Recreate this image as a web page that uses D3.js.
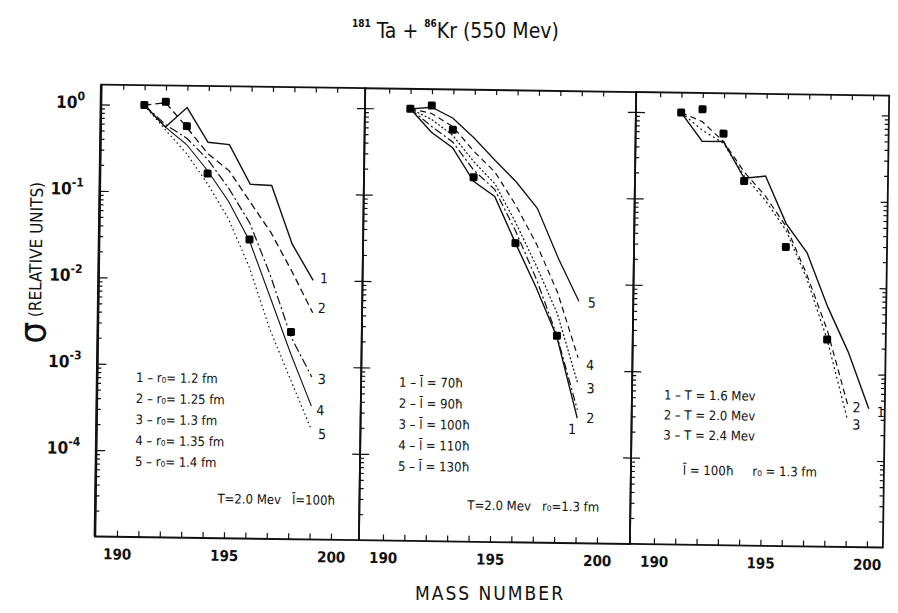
<!DOCTYPE html>
<html>
<head>
<meta charset="utf-8">
<script src="https://cdn.jsdelivr.net/npm/d3@7"></script>
<style>
body { margin: 0; background: #fff; }
svg text { font-family: "DejaVu Sans Condensed", "Liberation Sans Narrow", "Liberation Sans", sans-serif; fill: #111; }
</style>
</head>
<body>
<div id="chart"></div>
<script>
// mass numbers of the calculated points
var massCalc = [191, 192, 193, 194, 195, 196, 197, 198, 199];
var massCalcLong = [191, 192, 193, 194, 195, 196, 197, 198, 199, 200];

// experimental points (same in every panel)
var massExp = [191, 192, 193, 194, 196, 198];
var sigmaExp = [1.0, 1.1, 0.58, 0.165, 0.029, 0.0025];

// left panel : r0 varied
var leftC1 = [1.0, 0.56, 0.95, 0.38, 0.36, 0.126, 0.123, 0.026, 0.010];
var leftC2 = [1.0, 1.07, 0.56, 0.28, 0.18, 0.079, 0.035, 0.0126, 0.0042];
var leftC3 = [1.0, 0.60, 0.42, 0.24, 0.112, 0.045, 0.0112, 0.0022, 0.00076];
var leftC4 = [1.0, 0.56, 0.355, 0.178, 0.079, 0.028, 0.0063, 0.0014, 0.00035];
var leftC5 = [1.0, 0.52, 0.28, 0.126, 0.05, 0.014, 0.0027, 0.00071, 0.00019];
var leftLegend = ["1 – r\u2080= 1.2 fm", "2 – r\u2080= 1.25 fm", "3 – r\u2080= 1.3 fm", "4 – r\u2080= 1.35 fm", "5 – r\u2080= 1.4 fm"];
var leftNote = "T=2.0 Mev   l\u0304=100\u0127";

// middle panel : l varied
var midC1 = [1.0, 0.54, 0.36, 0.148, 0.10, 0.029, 0.0089, 0.0024, 0.00028];
var midC2 = [1.0, 0.63, 0.42, 0.20, 0.12, 0.040, 0.0112, 0.0025, 0.00035];
var midC3 = [1.0, 0.76, 0.50, 0.25, 0.14, 0.050, 0.0158, 0.0045, 0.00071];
var midC4 = [1.0, 0.89, 0.63, 0.33, 0.19, 0.079, 0.028, 0.0079, 0.0014];
var midC5 = [1.0, 1.05, 0.79, 0.47, 0.26, 0.148, 0.074, 0.020, 0.0063];
var midLegend = ["1 – l\u0304 = 70\u0127", "2 – l\u0304 = 90\u0127", "3 – l\u0304 = 100\u0127", "4 – l\u0304 = 110\u0127", "5 – l\u0304 = 130\u0127"];
var midNote = "T=2.0 Mev   r\u2080=1.3 fm";

// right panel : T varied
var rightC1 = [1.0, 0.47, 0.47, 0.178, 0.19, 0.054, 0.025, 0.006, 0.0018, 0.0004];
var rightC2 = [1.0, 0.79, 0.47, 0.21, 0.112, 0.05, 0.014, 0.0032, 0.00045];
var rightC3 = [1.0, 0.63, 0.45, 0.19, 0.10, 0.045, 0.0126, 0.0025, 0.0003];
var rightLegend = ["1 – T = 1.6 Mev", "2 – T = 2.0 Mev", "3 – T = 2.4 Mev"];
var rightNote = "l\u0304 = 100\u0127     r\u2080 = 1.3 fm";

var curveNames = ["1", "2", "3", "4", "5"];

// axis ticks
var xTicks = [190, 191, 192, 193, 194, 195, 196, 197, 198, 199, 200];
var xTickLabels = [190, 195, 200];
var yMajor = [1, 1e-1, 1e-2, 1e-3, 1e-4];
var yMajorExp = ["0", "-1", "-2", "-3", "-4"];

var W = 898, H = 613;
var svg = d3.select("#chart").append("svg").attr("width", W).attr("height", H);

// title
var title = svg.append("text").attr("x", 352).attr("y", 38).style("font-size", "21px");
title.append("tspan").text("181").style("font-size", "10px").style("font-weight", "bold").attr("dy", -11);
title.append("tspan").text(" Ta + ").attr("dy", 11);
title.append("tspan").text("86").style("font-size", "10px").style("font-weight", "bold").attr("dy", -11);
title.append("tspan").text("Kr (550 Mev)").attr("dy", 11);

// the scanned plate is a little tilted
var g = svg.append("g").attr("transform", "rotate(0.8,490,320)");

var yTop = 90, yBot = 542;
var y = d3.scaleLog().domain([1e-5, 1.7]).range([yBot, yTop]);
var yMinor = y.ticks().filter(function(d) { return yMajor.indexOf(d) < 0 && d > 1e-5; });

var panels = [
  { x0: 98, x1: 362, r0: 120, r1: 334, mass: [massCalc, massCalc, massCalc, massCalc, massCalc],
    curves: [leftC1, leftC2, leftC3, leftC4, leftC5],
    dash: [null, "7,4", "9,3,2,3", null, "1.5,3"], width: [1.4, 1.3, 1.2, 1.1, 1.2],
    lab: [[7, 3], [5, 0], [6, 7], [5, 9], [7, 10]],
    legend: leftLegend, lx: 137, ly: 387, lstep: 21, note: leftNote, nx: 220, ny: 507, cross: false },
  { x0: 362, x1: 633, r0: 386, r1: 600, mass: [massCalc, massCalc, massCalc, massCalc, massCalc],
    curves: [midC1, midC2, midC3, midC4, midC5],
    dash: [null, "8,3,2,3", "2,2", "6,4", null], width: [1.4, 1.2, 1.2, 1.2, 1.3],
    lab: [[-9, 16], [9, 13], [9, 10], [8, 12], [9, 6]],
    legend: midLegend, lx: 400, ly: 388, lstep: 21, note: midNote, nx: 470, ny: 510, cross: true },
  { x0: 633, x1: 886, r0: 657, r1: 870, mass: [massCalcLong, massCalc, massCalc],
    curves: [rightC1, rightC2, rightC3],
    dash: [null, "6,4", "2,3"], width: [1.4, 1.2, 1.2],
    lab: [[8, 8], [5, 8], [5, 10]],
    legend: rightLegend, lx: 665, ly: 397, lstep: 20, note: rightNote, nx: 685, ny: 472, cross: true }
];

panels.forEach(function(p, pi) {
  var x = d3.scaleLinear().domain([190, 200]).range([p.r0, p.r1]);
  var pg = g.append("g");

  // frame
  pg.append("rect")
    .attr("x", p.x0).attr("y", yTop)
    .attr("width", p.x1 - p.x0).attr("height", yBot - yTop)
    .attr("fill", "none").attr("stroke", "#111").attr("stroke-width", 1.8);
  if (pi === 0) {
    pg.append("line").attr("x1", p.x0).attr("x2", p.x0).attr("y1", yTop).attr("y2", yBot)
      .attr("stroke", "#111").attr("stroke-width", 2.6);
  }

  // bottom axis
  var xb = pg.append("g").attr("transform", "translate(0," + yBot + ")")
    .call(d3.axisBottom(x).tickValues(xTicks).tickSize(-6).tickPadding(12)
      .tickFormat(function(d) { return xTickLabels.indexOf(d) >= 0 ? d : ""; }));
  xb.select(".domain").remove();
  xb.selectAll("text").style("font-size", "15px").style("font-weight", "bold")
    .style("font-family", "'DejaVu Sans Condensed','Liberation Sans Narrow',sans-serif").attr("fill", "#111");
  xb.selectAll("line").attr("stroke", "#111").attr("stroke-width", 1.2);

  // top axis
  var xt = pg.append("g").attr("transform", "translate(0," + yTop + ")")
    .call(d3.axisTop(x).tickValues(xTicks).tickSize(-5).tickFormat(""));
  xt.select(".domain").remove();
  xt.selectAll("line").attr("stroke", "#111").attr("stroke-width", 1.2);

  // left axis ticks
  var ya = pg.append("g").attr("transform", "translate(" + p.x0 + ",0)")
    .call(d3.axisLeft(y).tickValues(yMajor).tickSize(p.cross ? 8 : 0).tickFormat(""));
  ya.select(".domain").remove();
  var yaIn = pg.append("g").attr("transform", "translate(" + p.x0 + ",0)")
    .call(d3.axisLeft(y).tickValues(yMajor).tickSize(-9).tickFormat(""));
  yaIn.select(".domain").remove();
  var ym = pg.append("g").attr("transform", "translate(" + p.x0 + ",0)")
    .call(d3.axisLeft(y).tickValues(yMinor).tickSize(-4).tickFormat(""));
  ym.select(".domain").remove();
  pg.selectAll(".tick line").attr("stroke", "#111").attr("stroke-width", 1.2);

  if (pi === 2) {
    var yr = pg.append("g").attr("transform", "translate(" + p.x1 + ",0)")
      .call(d3.axisRight(y).tickValues(yMinor).tickSize(-4).tickFormat(""));
    yr.select(".domain").remove();
    var yr2 = pg.append("g").attr("transform", "translate(" + p.x1 + ",0)")
      .call(d3.axisRight(y).tickValues(yMajor).tickSize(-7).tickFormat(""));
    yr2.select(".domain").remove();
    pg.selectAll(".tick line").attr("stroke", "#111").attr("stroke-width", 1.2);
  }

  if (pi === 0) {
    // decade labels, 10 with a raised exponent
    var yl = pg.selectAll(".ylab").data(yMajor).enter().append("text")
      .attr("class", "ylab")
      .attr("x", p.x0 - 16).attr("y", function(d) { return y(d) + 4; })
      .attr("text-anchor", "end")
      .style("font-size", "17px").style("font-weight", "bold");
    yl.append("tspan").text("10");
    yl.append("tspan").attr("dy", -8).style("font-size", "12px")
      .text(function(d, i) { return yMajorExp[i]; });
  }

  // calculated curves
  var line = d3.line().x(function(d) { return x(d[0]); }).y(function(d) { return y(d[1]); });
  p.curves.forEach(function(c, ci) {
    var pts = d3.zip(p.mass[ci], c);
    pg.append("path").datum(pts)
      .attr("d", line)
      .attr("fill", "none").attr("stroke", "#111")
      .attr("stroke-width", p.width[ci])
      .attr("stroke-dasharray", p.dash[ci]);
    var last = pts[pts.length - 1];
    pg.append("text")
      .attr("x", x(last[0]) + p.lab[ci][0]).attr("y", y(last[1]) + p.lab[ci][1])
      .style("font-size", "14px")
      .text(curveNames[ci]);
  });

  // experimental points
  pg.selectAll(".exp").data(d3.zip(massExp, sigmaExp)).enter().append("rect")
    .attr("class", "exp")
    .attr("x", function(d) { return x(d[0]) - 4; })
    .attr("y", function(d) { return y(d[1]) - 4; })
    .attr("width", 8).attr("height", 8).attr("rx", 1.5)
    .attr("fill", "#000");

  // legend
  pg.selectAll(".leg").data(p.legend).enter().append("text")
    .attr("class", "leg")
    .attr("x", p.lx).attr("y", function(d, i) { return p.ly + i * p.lstep; })
    .style("font-size", "13px")
    .text(function(d) { return d; });
  pg.append("text").attr("x", p.nx).attr("y", p.ny)
    .style("font-size", "13px").style("white-space", "pre")
    .text(p.note);
});

// axis titles
var yt = g.append("text")
  .attr("transform", "translate(46,350) rotate(-90)")
  .attr("text-anchor", "start");
yt.append("tspan").text("\u03C3").style("font-size", "38px");
yt.append("tspan").text(" (RELATIVE UNITS)").style("font-size", "17px").attr("dy", -5);

svg.append("text").attr("x", 490).attr("y", 600).attr("text-anchor", "middle")
  .style("font-size", "19px").style("letter-spacing", "2px")
  .text("MASS NUMBER");
</script>
</body>
</html>
